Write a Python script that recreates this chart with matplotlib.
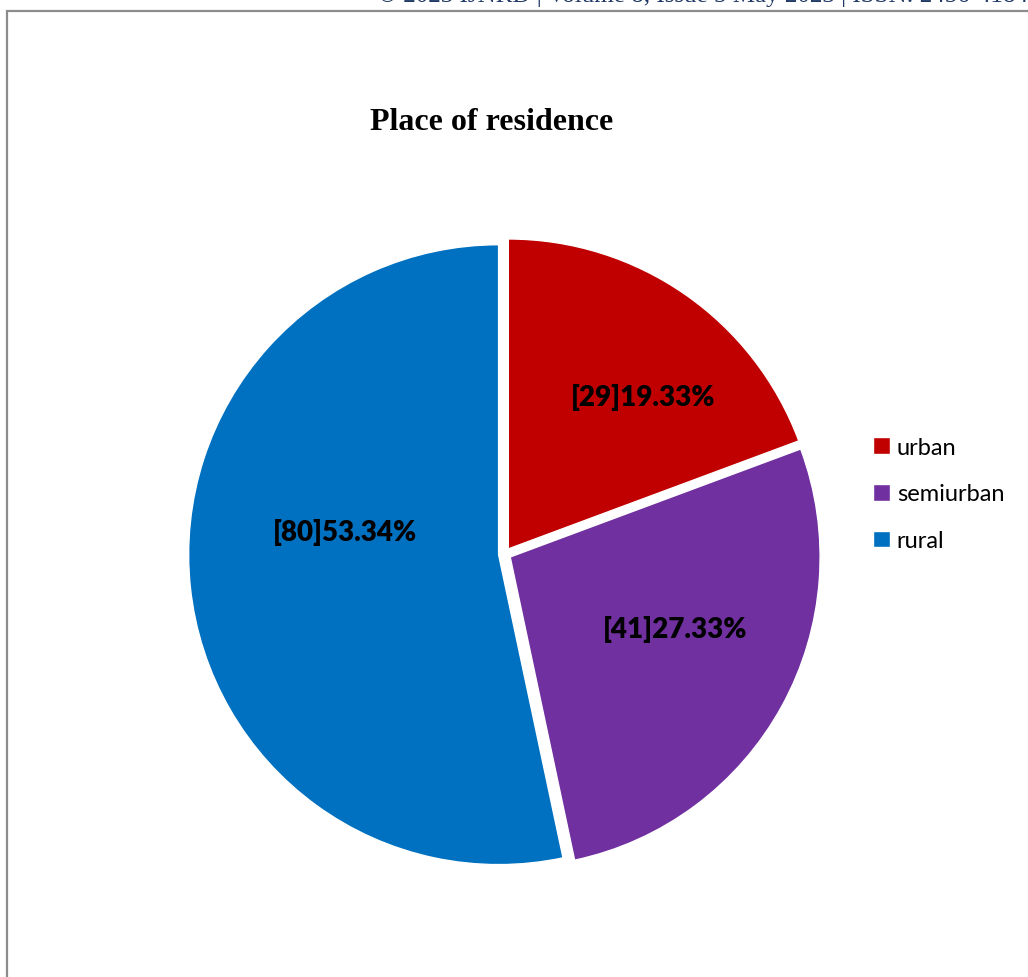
import numpy as np
import matplotlib

matplotlib.use("Agg")
import matplotlib.pyplot as plt
from matplotlib.patches import Rectangle

categories = ["urban", "semiurban", "rural"]
counts = [29, 41, 80]
pct_labels = ["[29]19.33%", "[41]27.33%", "[80]53.34%"]
colors = ["#C00000", "#7030A0", "#0070C0"]

# where Excel dropped each data label: radius and angle offset from the wedge bisector
label_radius = [0.655, 0.58, 0.50]
label_turn = [-6.7, 5.2, -14.7]

fig = plt.figure(figsize=(10.28, 9.78), dpi=100)
fig.patch.set_facecolor("white")

# chart frame (cut off at right and bottom, like the page crop)
fig.patches.append(
    Rectangle((7 / 1028, -0.05), 1.1, 1 - 12 / 978 + 0.05,
              transform=fig.transFigure, fill=False,
              edgecolor="#8c8c8c", linewidth=1.6, zorder=0)
)

# page header peeking in at the top
fig.text(378 / 1028, 1.0 + 4 / 978, "\u00a9 2023 IJNRD | Volume 8, Issue 5 May 2023 | ISSN: 2456-4184",
         fontsize=18, family="Liberation Serif", color="#1f3864",
         ha="left", va="center")

ax = fig.add_axes([0.491 - 0.3015, 0.4325 - 0.317, 0.603, 0.634])
wedges, _ = ax.pie(
    counts,
    colors=colors,
    startangle=90,
    counterclock=False,
    explode=[0.02, 0.02, 0.02],
    wedgeprops=dict(edgecolor="white", linewidth=1.0, clip_on=False),
)
ax.set_xlim(-1, 1)
ax.set_ylim(-1, 1)
ax.set_aspect("equal")
ax.axis("off")

for wedge, text, r, turn in zip(wedges, pct_labels, label_radius, label_turn):
    mid = np.deg2rad((wedge.theta1 + wedge.theta2) / 2 + turn)
    cx, cy = wedge.center
    ax.text(cx + r * np.cos(mid), cy + r * np.sin(mid), text,
            fontsize=20, fontweight="heavy", family="Lato",
            ha="center", va="center", color="black")

fig.text(492 / 1028, 1 - 122 / 978, "Place of residence",
         fontsize=23, fontweight="bold", family="Liberation Serif",
         ha="center", va="center")

fig.legend(
    wedges, categories,
    loc="center left",
    bbox_to_anchor=(852 / 1028, 1 - 495 / 978),
    frameon=False,
    prop=dict(family="Lato", size=17),
    handlelength=0.7,
    handleheight=0.7,
    handletextpad=0.3,
    labelspacing=1.1,
)

fig.savefig("out.png", dpi=100, facecolor="white")
